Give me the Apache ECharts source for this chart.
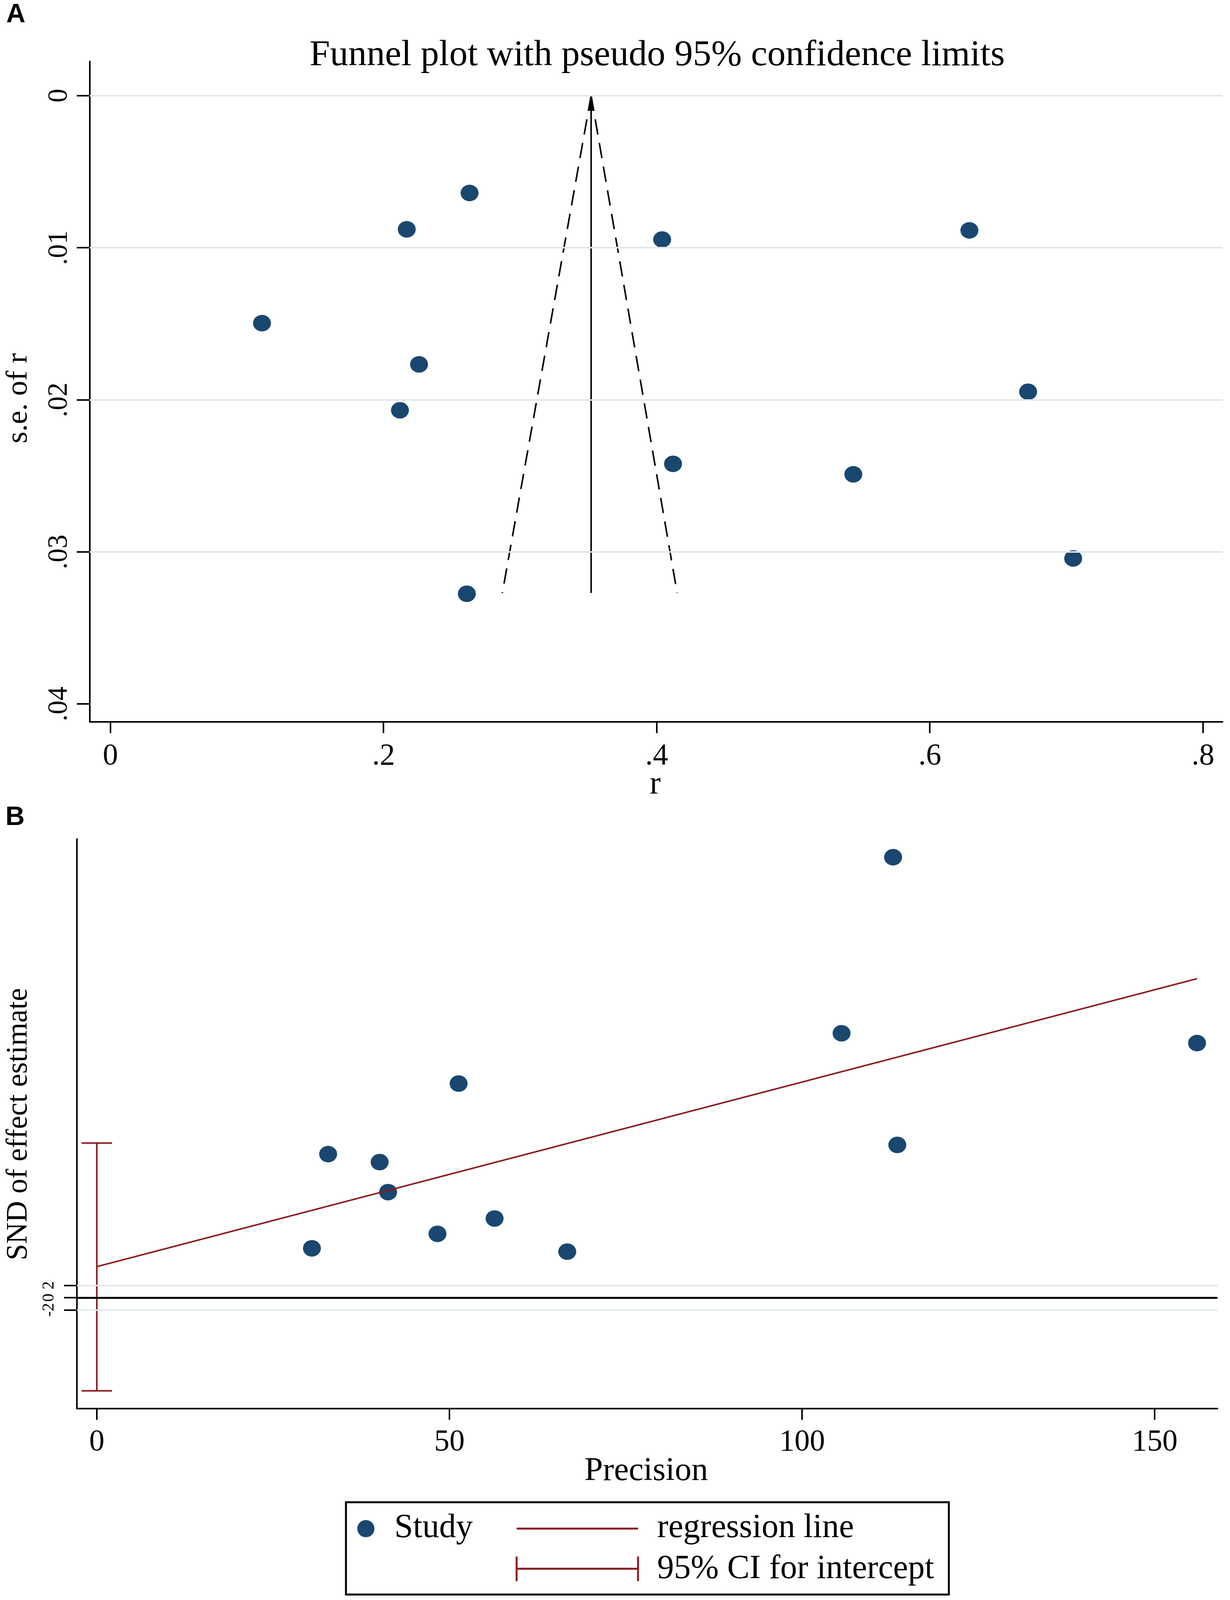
<!DOCTYPE html>
<html>
<head>
<meta charset="utf-8">
<title>Funnel plot and Egger test</title>
<script src="https://cdn.jsdelivr.net/npm/echarts@6.0.0/dist/echarts.min.js"></script>
<style>
    html, body { margin: 0; padding: 0; background: #fff; overflow: hidden; }
    #chart { width: 3150px; }
</style>
</head>
<body>
<div id="chart"></div>
<script>
    // panel A: funnel plot
    var studyR  = [0.111, 0.217, 0.263, 0.226, 0.212, 0.261, 0.404, 0.412, 0.544, 0.629, 0.672, 0.705];
    var studySE = [0.01496, 0.00879, 0.00640, 0.01767, 0.02069, 0.03275, 0.00946, 0.02421, 0.02490, 0.00886, 0.01947, 0.03043];
    var pooledR = 0.352;
    var funnelSE = [0, 0.0327];          // top and bottom of the funnel
    var funnelLeftR = [0.352, 0.287];
    var funnelRightR = [0.352, 0.415];
    var rTicks = [0, 0.2, 0.4, 0.6, 0.8];
    var seTicks = [0, 0.01, 0.02, 0.03, 0.04];
    var seGrid = [0, 0.01, 0.02, 0.03];

    // panel B: Egger regression
    var precision = [30.5, 32.8, 40.1, 41.3, 48.3, 51.3, 56.4, 66.7, 105.6, 112.9, 113.5, 156.0];
    var snd       = [8.04, 23.4, 22.1, 17.2, 10.4, 34.9, 12.9, 7.5, 43.1, 71.8, 24.9, 41.5];
    var regPrec = [0, 156.0];
    var regSnd  = [5.05, 52.0];
    var ciIntercept = [-15.2, 25.2];
    var precTicks = [0, 50, 100, 150];
    var sndTicks = [-2, 0, 2];
    var sndGrid = [-2, 2];

    var navy = '#1a476f';
    var maroon = '#8c1a1e';
    var gridCol = '#dfe8ec';
    var serif = 'Liberation Serif';

    // the layout was measured on a 3150 x 4664 sheet; squeeze it to the visible height
    var H = Math.min(window.innerHeight || 4664, 4664);
    var sy = H / 4664;
    function Y(v) { return v * sy; }
    // rotated text runs along y, so it shrinks with the height
    function R(v) { return Math.round(v * Math.pow(sy, 0.75)); }
    document.getElementById('chart').style.height = H + 'px';

    function pairs(xs, ys) {
        return xs.map(function (x, i) { return [x, ys[i]]; });
    }
    function stataNum(v) {
        var s = String(+v.toFixed(4));
        return s.replace(/^0\./, '.').replace(/^-0\./, '-.');
    }
    function valueAxis(idx, ticks, tickLen, label, opt) {
        return Object.assign({
            type: 'value',
            gridIndex: idx,
            axisLine: { show: true, onZero: false, lineStyle: { color: '#000', width: 4 } },
            axisTick: { show: true, length: tickLen, customValues: ticks, lineStyle: { color: '#000', width: 4 } },
            axisLabel: Object.assign({ fontFamily: serif, color: '#000', customValues: ticks, formatter: stataNum }, label),
            splitLine: { show: false }
        }, opt);
    }
    function gridLines(values, color, width) {
        return {
            silent: true,
            symbol: 'none',
            label: { show: false },
            lineStyle: { color: color, width: width, type: 'solid' },
            data: values.map(function (v) { return { yAxis: v }; })
        };
    }
    function txt(x, y, s, size, align, rotated) {
        return {
            type: 'text', x: x, y: Y(y),
            rotation: rotated ? Math.PI / 2 : 0,
            style: { text: s, fontFamily: serif, fontSize: size, fill: '#000', align: align || 'center', verticalAlign: 'middle' }
        };
    }

    var chart = echarts.init(document.getElementById('chart'), null, { renderer: 'canvas' });

    var option = {
        backgroundColor: '#fff',
        animation: false,
        grid: [
            { left: 229.6, top: Y(179), width: 2901.4, height: Y(1925) },
            { left: 197, top: Y(2446), width: 2921, height: Y(1659.7) }
        ],
        xAxis: [
            valueAxis(0, rTicks, Y(33), { fontSize: 78, margin: 50 }, { min: -0.0152, max: 0.8144 }),
            valueAxis(1, precTicks, Y(33), { fontSize: 78, margin: 48 }, { min: -2.82, max: 158.9 })
        ],
        yAxis: [
            valueAxis(0, seTicks, 33, { fontSize: R(78), rotate: 90, margin: 42 },
                { inverse: true, min: -0.00225, max: 0.04117 }),
            valueAxis(1, sndTicks, 33, { fontSize: R(46), rotate: 90, margin: 50 },
                { min: -18.07, max: 74.75 })
        ],
        series: [
            {
                name: 'funnel left',
                type: 'line',
                xAxisIndex: 0, yAxisIndex: 0,
                data: pairs(funnelLeftR, funnelSE),
                showSymbol: false, silent: true, z: 3,
                lineStyle: { color: '#000', width: 4, type: [Y(45), Y(25)] },
                markLine: gridLines(seGrid, gridCol, 4)
            },
            {
                name: 'funnel right',
                type: 'line',
                xAxisIndex: 0, yAxisIndex: 0,
                data: pairs(funnelRightR, funnelSE),
                showSymbol: false, silent: true, z: 3,
                lineStyle: { color: '#000', width: 4, type: [Y(45), Y(25)] }
            },
            {
                // pooled estimate with arrow head at se = 0
                name: 'pooled',
                type: 'custom',
                xAxisIndex: 0, yAxisIndex: 0,
                silent: true, z: 3,
                data: [[pooledR, funnelSE[0], funnelSE[1]]],
                encode: { x: 0, y: [1, 2] },
                renderItem: function (params, api) {
                    var top = api.coord([api.value(0), api.value(1)]);
                    var bot = api.coord([api.value(0), api.value(2)]);
                    var len = Y(44);
                    return {
                        type: 'group',
                        children: [
                            { type: 'line', shape: { x1: bot[0], y1: bot[1], x2: top[0], y2: top[1] + len * 0.7 },
                              style: { stroke: '#000', lineWidth: 4 } },
                            { type: 'polygon', shape: { points: [[top[0], top[1]], [top[0] - 9, top[1] + len], [top[0] + 9, top[1] + len]] },
                              style: { fill: '#000' } }
                        ]
                    };
                }
            },
            {
                name: 'studies A',
                type: 'scatter',
                xAxisIndex: 0, yAxisIndex: 0,
                data: pairs(studyR, studySE),
                symbolSize: [46, Y(46) + 2], z: 4,
                itemStyle: { color: navy, opacity: 1 }
            },
            {
                name: 'Study',
                type: 'scatter',
                xAxisIndex: 1, yAxisIndex: 1,
                data: pairs(precision, snd),
                symbolSize: [46, Y(46) + 2], z: 3,
                itemStyle: { color: navy, opacity: 1 },
                markLine: gridLines(sndGrid, gridCol, 4)
            },
            {
                name: 'zero line',
                type: 'line',
                xAxisIndex: 1, yAxisIndex: 1,
                data: [],
                markLine: gridLines([0], '#000', 5)
            },
            {
                name: 'regression line',
                type: 'line',
                xAxisIndex: 1, yAxisIndex: 1,
                data: pairs(regPrec, regSnd),
                showSymbol: false, silent: true, z: 4,
                lineStyle: { color: maroon, width: 4 }
            },
            {
                name: '95% CI for intercept',
                type: 'custom',
                xAxisIndex: 1, yAxisIndex: 1,
                silent: true, z: 4,
                data: [[0, ciIntercept[0], ciIntercept[1]]],
                encode: { x: 0, y: [1, 2] },
                renderItem: function (params, api) {
                    var lo = api.coord([api.value(0), api.value(1)]);
                    var hi = api.coord([api.value(0), api.value(2)]);
                    var cap = 39;
                    var st = { stroke: maroon, lineWidth: 4 };
                    return {
                        type: 'group',
                        children: [
                            { type: 'line', shape: { x1: lo[0], y1: lo[1], x2: hi[0], y2: hi[1] }, style: st },
                            { type: 'line', shape: { x1: hi[0] - cap, y1: hi[1], x2: hi[0] + cap, y2: hi[1] }, style: st },
                            { type: 'line', shape: { x1: lo[0] - cap, y1: lo[1], x2: lo[0] + cap, y2: lo[1] }, style: st }
                        ]
                    };
                }
            }
        ],
        graphic: [
            { type: 'text', x: 16, y: Y(44), style: { text: 'A', fontFamily: 'Liberation Sans', fontWeight: 'bold', fontSize: 68, fill: '#000', align: 'left', verticalAlign: 'middle' } },
            { type: 'text', x: 14, y: Y(2383), style: { text: 'B', fontFamily: 'Liberation Sans', fontWeight: 'bold', fontSize: 68, fill: '#000', align: 'left', verticalAlign: 'middle' } },
            txt(1683, 162, 'Funnel plot with pseudo 95% confidence limits', 94),
            txt(1678, 2287, 'r', 85),
            txt(48, 1161, 's.e. of r', R(85), 'center', true),
            txt(1655, 4289, 'Precision', 85),
            txt(48, 3277, 'SND of effect estimate', R(84), 'center', true),
            // legend box
            { type: 'rect', shape: { x: 886, y: Y(4379), width: 1544, height: Y(269) }, style: { fill: '#fff', stroke: '#000', lineWidth: 5 } },
            { type: 'circle', shape: { cx: 937, cy: Y(4456), r: 22 }, style: { fill: navy } },
            txt(1010, 4455, 'Study', 86, 'left'),
            { type: 'line', shape: { x1: 1323, y1: Y(4456), x2: 1634, y2: Y(4456) }, style: { stroke: maroon, lineWidth: 5 } },
            txt(1683, 4455, 'regression line', 86, 'left'),
            { type: 'line', shape: { x1: 1323, y1: Y(4573), x2: 1634, y2: Y(4573) }, style: { stroke: maroon, lineWidth: 5 } },
            { type: 'line', shape: { x1: 1323, y1: Y(4537), x2: 1323, y2: Y(4609) }, style: { stroke: maroon, lineWidth: 5 } },
            { type: 'line', shape: { x1: 1634, y1: Y(4537), x2: 1634, y2: Y(4609) }, style: { stroke: maroon, lineWidth: 5 } },
            txt(1683, 4574, '95% CI for intercept', 86, 'left')
        ]
    };

    chart.setOption(option);
</script>
</body>
</html>
